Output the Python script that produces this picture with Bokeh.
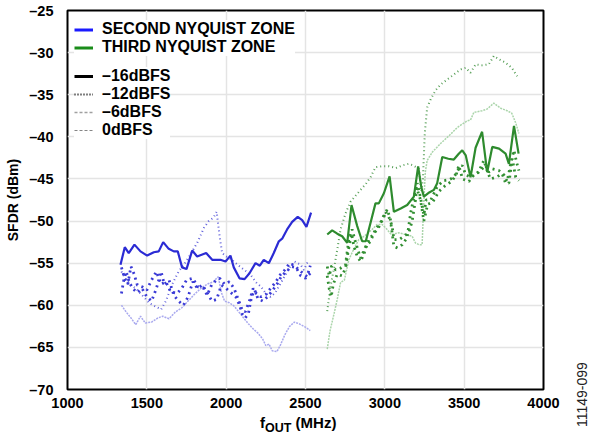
from bokeh.plotting import figure
from bokeh.models import Range1d, FixedTicker, Legend, LegendItem, Div
from bokeh.layouts import row, column
from bokeh.embed import file_html
from bokeh.resources import INLINE
import math

FONT = "Liberation Sans"

# ---------------- data ----------------
# Second Nyquist zone (blue)
b16_f = [1334, 1361, 1386, 1422, 1460, 1502, 1544, 1575, 1603, 1638, 1670, 1695, 1722, 1750, 1786, 1817,
         1874, 1912, 1964, 1996, 2027, 2048, 2084, 2116, 2147, 2185, 2212, 2237, 2269, 2300, 2332, 2353,
         2384, 2416, 2451, 2479, 2506, 2535]
b16_v = [-55.2, -53.1, -53.8, -52.8, -53.6, -54.1, -53.7, -53.6, -52.5, -53.3, -53.6, -53.6, -55.5, -55.7, -53.5, -54.2,
         -53.8, -54.6, -54.6, -54.8, -54.1, -55.5, -56.8, -56.9, -56.2, -55.0, -55.3, -54.6, -55.0, -53.8, -52.4, -52.1,
         -51.0, -50.1, -49.5, -49.9, -50.7, -49.0]

b12_f = [1340, 1370, 1400, 1440, 1480, 1520, 1560, 1590, 1620, 1660, 1700, 1740, 1780, 1820, 1860, 1890, 1920, 1940,
         1960, 1975, 2000, 2030, 2060, 2100, 2150, 2190, 2220, 2250, 2280, 2310, 2340, 2370, 2400, 2430, 2450, 2470,
         2490, 2510, 2530]
b12_v = [-56.0, -57.0, -57.5, -58.2, -59.0, -59.8, -60.2, -60.5, -59.5, -57.5, -56.0, -55.0, -53.8, -52.5, -50.8, -50.0,
         -49.6, -48.9, -52.0, -53.8, -54.2, -54.5, -55.0, -55.6, -56.3, -57.3, -57.8, -58.6, -59.0, -58.5, -57.5, -56.5,
         -55.5, -54.8, -55.0, -55.2, -55.8, -55.0, -54.8]

b6_f = [1340, 1360, 1380, 1400, 1420, 1440, 1470, 1500, 1530, 1560, 1590, 1620, 1650, 1690, 1720, 1750, 1790, 1820,
        1860, 1880, 1910, 1940, 1960, 1990, 2020, 2050, 2080, 2100, 2120, 2150, 2170, 2190, 2220, 2250, 2280, 2310,
        2340, 2370, 2400, 2430, 2460, 2490, 2510, 2530]
b6_v = [-55.5, -56.8, -57.5, -55.4, -56.3, -57.6, -57.8, -58.2, -57.0, -56.0, -57.5, -57.2, -58.4, -58.6, -58.0, -57.0,
        -56.8, -57.8, -58.0, -58.8, -57.5, -57.0, -56.8, -57.5, -57.2, -58.0, -59.5, -60.5, -60.8, -59.3, -58.0, -58.6,
        -59.0, -58.7, -58.0, -57.3, -56.4, -55.8, -55.0, -55.3, -55.8, -56.3, -56.6, -55.3]

b0_f = [1340, 1355, 1370, 1390, 1410, 1440, 1470, 1500, 1530, 1560, 1590, 1610, 1640, 1670, 1700, 1730, 1760, 1790,
        1820, 1850, 1880, 1910, 1940, 1970, 2000, 2030, 2060, 2085, 2100, 2120, 2140, 2160, 2180, 2200, 2230, 2260,
        2290, 2320, 2350, 2380, 2410, 2440, 2470, 2500, 2530]
b0_v = [-58.6, -57.0, -56.0, -57.3, -58.0, -58.5, -58.0, -59.0, -59.5, -58.0, -56.0, -57.5, -57.0, -58.8, -59.5, -60.0,
        -59.0, -57.2, -58.0, -57.6, -58.5, -59.5, -59.3, -57.6, -58.0, -58.5, -59.0, -60.0, -61.0, -61.5, -61.0, -59.0,
        -58.2, -59.2, -59.5, -59.0, -58.3, -57.5, -56.5, -56.0, -55.4, -55.5, -56.5, -56.8, -56.2]

bl_f = [1340, 1370, 1400, 1430, 1460, 1490, 1530, 1570, 1600, 1640, 1680, 1720, 1760, 1800, 1840, 1880, 1920, 1950,
        1970, 1990, 2020, 2050, 2080, 2110, 2140, 2170, 2200, 2230, 2250, 2270, 2290, 2320, 2340, 2370, 2400, 2430,
        2460, 2500, 2530]
bl_v = [-60.0, -60.8, -61.5, -62.3, -61.3, -62.1, -62.0, -61.5, -61.3, -61.6, -60.8, -60.3, -59.5, -58.7, -58.0, -57.5,
        -57.2, -56.6, -58.5, -59.5, -59.7, -60.1, -60.8, -61.5, -62.2, -62.8, -63.3, -64.0, -64.8, -64.6, -65.4, -65.5,
        -64.8, -63.5, -62.5, -62.0, -62.2, -62.6, -63.0]

# Third Nyquist zone (green)
g16_f = [2637, 2668, 2700, 2731, 2763, 2790, 2826, 2857, 2880, 2910, 2941, 2962, 2994, 3030, 3057, 3100, 3141, 3183,
         3210, 3230, 3246, 3280, 3309, 3330, 3362, 3400, 3435, 3466, 3488, 3510, 3540, 3572, 3613, 3645, 3677, 3720,
         3761, 3782, 3814, 3843]
g16_v = [-51.6, -51.1, -51.5, -51.8, -52.6, -48.1, -50.6, -52.4, -52.4, -50.2, -47.9, -47.9, -46.7, -44.7, -48.9, -48.5,
         -48.1, -47.1, -43.5, -46.0, -47.1, -46.6, -46.3, -45.5, -42.4, -42.6, -42.7, -42.0, -41.6, -42.2, -44.8, -41.3,
         -39.4, -44.2, -41.2, -41.4, -42.0, -43.2, -38.7, -42.0]

g12_f = [2637, 2658, 2679, 2700, 2721, 2752, 2784, 2815, 2847, 2880, 2910, 2941, 2980, 3025, 3070, 3109, 3151, 3180,
         3214, 3230, 3240, 3252, 3267, 3290, 3319, 3351, 3393, 3435, 3477, 3510, 3540, 3572, 3610, 3655, 3687, 3720,
         3761, 3800, 3834]
g12_v = [-60.7, -57.7, -55.7, -53.4, -51.0, -49.1, -47.7, -47.0, -46.3, -45.6, -44.8, -43.6, -43.5, -43.5, -43.7, -43.4,
         -43.2, -43.4, -43.8, -46.5, -45.0, -39.5, -36.5, -35.5, -34.5, -33.8, -33.2, -32.6, -32.0, -31.8, -32.4, -31.4,
         -31.5, -31.4, -30.4, -30.8, -31.2, -31.8, -32.8]

g6_f = [2637, 2650, 2665, 2690, 2720, 2752, 2773, 2794, 2815, 2847, 2880, 2910, 2940, 2973, 3004, 3025, 3046, 3057,
        3090, 3120, 3151, 3172, 3193, 3204, 3220, 3246, 3260, 3290, 3330, 3370, 3404, 3435, 3466, 3488, 3510, 3540,
        3570, 3603, 3635, 3655, 3677, 3719, 3750, 3771, 3793, 3814, 3830, 3845]
g6_v = [-55.4, -56.5, -55.3, -55.8, -55.6, -55.2, -52.2, -51.0, -52.5, -54.4, -53.0, -52.4, -51.0, -50.2, -48.9, -49.5,
        -50.6, -52.2, -52.2, -51.8, -51.4, -50.0, -47.5, -45.5, -46.8, -49.3, -47.5, -47.5, -45.9, -45.2, -45.1, -44.8,
        -43.8, -43.4, -44.5, -44.8, -44.5, -44.0, -43.4, -44.2, -43.8, -44.0, -44.5, -45.3, -43.2, -41.6, -43.0, -44.0]

g0_f = [2637, 2650, 2662, 2675, 2700, 2730, 2752, 2770, 2790, 2805, 2826, 2847, 2870, 2899, 2930, 2960, 2994, 3015,
        3035, 3057, 3080, 3110, 3140, 3162, 3185, 3200, 3225, 3246, 3270, 3300, 3340, 3380, 3420, 3450, 3466, 3490,
        3530, 3560, 3590, 3624, 3650, 3666, 3700, 3740, 3761, 3782, 3803, 3825, 3845]
g0_v = [-56.5, -58.1, -59.0, -57.5, -56.3, -56.5, -55.6, -53.5, -51.5, -53.0, -54.2, -54.8, -53.8, -52.2, -51.5, -50.8,
        -49.5, -48.6, -49.8, -53.0, -53.2, -52.8, -52.0, -49.1, -47.0, -46.0, -47.5, -50.0, -48.0, -47.8, -46.5, -45.8,
        -45.3, -44.5, -43.4, -45.0, -45.3, -44.5, -44.2, -42.8, -44.3, -45.0, -44.8, -44.4, -45.5, -45.5, -42.6, -44.8,
        -45.2]

gl_f = [2637, 2655, 2680, 2700, 2721, 2745, 2773, 2800, 2836, 2870, 2920, 2950, 2983, 3010, 3040, 3088, 3130, 3172,
        3193, 3215, 3235, 3245, 3255, 3267, 3300, 3351, 3414, 3456, 3519, 3540, 3561, 3613, 3645, 3687, 3730, 3771,
        3800, 3824, 3845]
gl_v = [-65.2, -63.0, -61.0, -59.3, -57.3, -57.0, -54.6, -53.5, -52.2, -51.8, -51.0, -50.4, -50.4, -50.9, -51.6, -51.4,
        -51.6, -51.8, -52.6, -52.8, -52.8, -48.0, -44.2, -42.8, -41.8, -40.8, -39.7, -38.9, -38.1, -38.0, -37.1, -36.9,
        -36.7, -36.0, -36.6, -36.9, -37.2, -38.3, -39.6]

y_ticks = [-70, -65, -60, -55, -50, -45, -40, -35, -30, -25]
x_ticks = [1000, 1500, 2000, 2500, 3000, 3500, 4000]
zone_labels = ["SECOND NYQUIST ZONE", "THIRD NYQUIST ZONE"]
level_labels = ["\u201316dBFS", "\u201312dBFS", "\u20136dBFS", "0dBFS"]
y_title = "SFDR (dBm)"
x_title = ("f", "OUT", " (MHz)")
fig_id = "11149-099"

# ---------------- figure ----------------
p = figure(width=572, height=414, output_backend="svg", toolbar_location=None,
           x_range=Range1d(1000, 4000), y_range=Range1d(-70, -25),
           min_border_left=67, min_border_right=29, min_border_top=10, min_border_bottom=25)
p.background_fill_color = "white"
p.border_fill_color = "white"
p.outline_line_color = "black"
p.outline_line_width = 2

p.xaxis.ticker = FixedTicker(ticks=x_ticks)
p.yaxis.ticker = FixedTicker(ticks=y_ticks)
p.yaxis.major_label_overrides = {t: ("\u2013" + str(abs(t))) for t in y_ticks}
for ax in (p.xaxis[0], p.yaxis[0]):
    ax.axis_line_color = None
    ax.major_tick_line_color = None
    ax.minor_tick_line_color = None
    ax.major_tick_out = 0
    ax.major_tick_in = 0
    ax.minor_tick_out = 0
    ax.major_label_text_font = FONT
    ax.major_label_text_font_style = "bold"
    ax.major_label_text_font_size = "14.5px"
    ax.major_label_text_color = "black"
p.xaxis.major_label_standoff = 8
p.yaxis.major_label_standoff = 14
p.yaxis.axis_label = y_title
p.yaxis.axis_label_text_font = FONT
p.yaxis.axis_label_text_font_style = "bold"
p.yaxis.axis_label_text_font_size = "14px"
p.yaxis.axis_label_text_color = "black"
p.yaxis.axis_label_standoff = 5

p.xgrid.grid_line_color = "#e4e4e4"
p.ygrid.grid_line_color = "#e4e4e4"
p.xgrid.grid_line_width = 1.5
p.ygrid.grid_line_width = 1.5

BLUE = "#2b2bd4"
GREEN = "#2e8b2e"

# blue lines
p.line(bl_f, bl_v, line_color="#a9a9ee", line_width=1.5, line_dash="2 1")
p.line(b12_f, b12_v, line_color="#6262dc", line_width=2, line_dash="1 3")
p.line(b0_f, b0_v, line_color="#3a3ad6", line_width=2.8, line_dash="2 4")
p.line(b6_f, b6_v, line_color="#3a3ad6", line_width=2.8, line_dash="2 4")
p.line(b16_f, b16_v, line_color=BLUE, line_width=2.2)

# green lines
p.line(gl_f, gl_v, line_color="#abd5ab", line_width=1.5, line_dash="2 1")
p.line(g12_f, g12_v, line_color="#579f57", line_width=2, line_dash="1 3")
p.line(g0_f, g0_v, line_color="#328f32", line_width=2.8, line_dash="2 4")
p.line(g6_f, g6_v, line_color="#328f32", line_width=2.8, line_dash="2 4")
p.line(g16_f, g16_v, line_color=GREEN, line_width=2.2)

# legend (placeholder renderers carry only the legend glyph styles)
NA = [math.nan]
lz1 = p.line(NA, NA, line_color="#1a1aff", line_width=3)
lz2 = p.line(NA, NA, line_color="#1a8c1a", line_width=3)
ll1 = p.line(NA, NA, line_color="black", line_width=3)
ll2 = p.line(NA, NA, line_color="black", line_width=2, line_dash="1 2")
ll3 = p.line(NA, NA, line_color="#a0a0a0", line_width=1.5, line_dash="3 2")
ll4 = p.line(NA, NA, line_color="#858585", line_width=1.2, line_dash="3 2")

common = dict(label_text_font=FONT, label_text_font_style="bold", label_text_font_size="16px",
              label_text_color="black", glyph_width=19, spacing=0, padding=0, margin=0,
              label_standoff=9, border_line_color=None, background_fill_color="white",
              background_fill_alpha=1.0)
leg1 = Legend(items=[LegendItem(label=zone_labels[0], renderers=[lz1]),
                     LegendItem(label=zone_labels[1], renderers=[lz2])],
              location=(7, 333), glyph_height=17, label_height=17, **common)
leg2 = Legend(items=[LegendItem(label=level_labels[0], renderers=[ll1]),
                     LegendItem(label=level_labels[1], renderers=[ll2]),
                     LegendItem(label=level_labels[2], renderers=[ll3]),
                     LegendItem(label=level_labels[3], renderers=[ll4])],
              location=(7, 250), glyph_height=16, label_height=16, **common)
p.add_layout(leg1)
p.add_layout(leg2)

# x-axis title with subscript (HTML text under the plot)
xlab_html = ('<div style="position:absolute;left:260px;top:1px;font-family:\'Liberation Sans\';'
             'font-weight:bold;font-size:15px;line-height:15px;white-space:nowrap;color:black">'
             + x_title[0] + '<span style="font-size:12.5px;position:relative;top:4px">' + x_title[1]
             + '</span>' + x_title[2] + '</div>')
xlab = Div(text=xlab_html, width=572, height=23, margin=(0, 0, 0, 0))

id_html = ('<div style="position:absolute;left:3px;top:359px;width:15px;height:72px;'
           'writing-mode:vertical-rl;transform:rotate(180deg);font-family:\'Liberation Sans\';'
           'font-size:14px;line-height:15px;text-align:center;color:#222;white-space:nowrap">'
           + fig_id + '</div>')
idd = Div(text=id_html, width=21, height=437, margin=(0, 0, 0, 0))

layout = row(column(p, xlab, spacing=0), idd, spacing=0)

open("out.html", "w").write(file_html(layout, INLINE))
